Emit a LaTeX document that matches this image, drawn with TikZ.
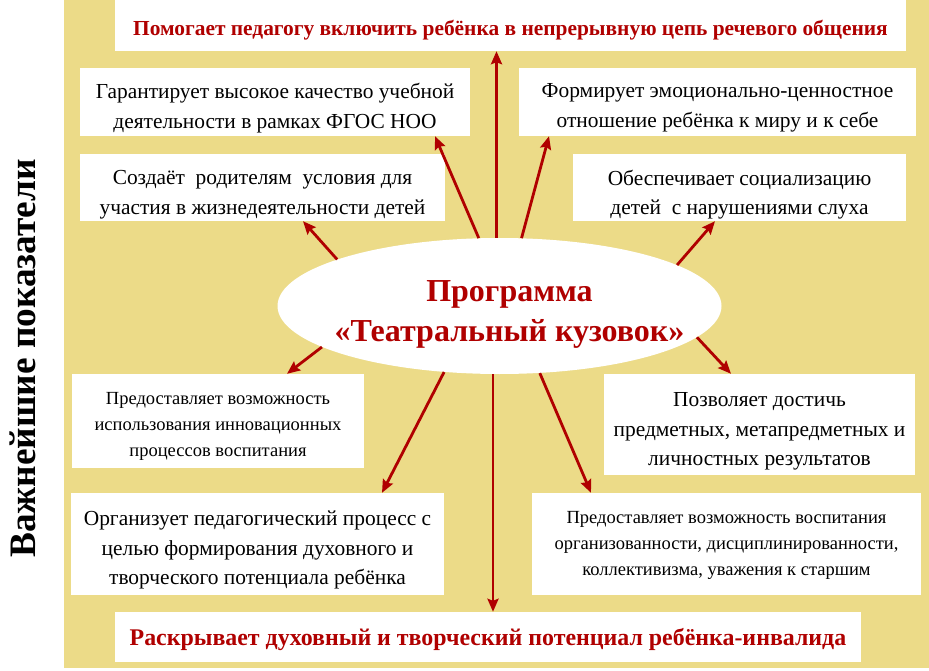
\documentclass[tikz,border=0pt]{standalone}
\usepackage{fontspec}
\setmainfont{Liberation Serif}
\usetikzlibrary{shapes.geometric,arrows.meta}
\definecolor{bgyel}{RGB}{236,219,136}
\definecolor{dred}{RGB}{176,0,0}
\tikzset{
  x=1pt,y=-1pt,
  box/.style={fill=white,inner sep=0pt},
  txt/.style={inner sep=0pt,align=center,text=black},
  bodytxt/.style={txt,font=\fontsize{21.4}{29.5}\selectfont},
  smalltxt/.style={txt,font=\fontsize{18.5}{26}\selectfont},
  headtxt/.style={txt,text=dred,font=\bfseries\fontsize{21.4}{24}\selectfont},
  arr/.style={draw=dred,line width=2.8pt,-{Stealth[length=13pt,width=11pt,inset=2pt]}},
}
\begin{document}
\begin{tikzpicture}
\useasboundingbox (0,0) rectangle (929,671);
\fill[bgyel] (64,0) rectangle (929,668);
\node[rotate=90,inner sep=0pt,font=\bfseries\fontsize{37.3}{40}\selectfont] (side) at (22.5,358.5) {Важнейшие показатели};
% boxes
\node[box,minimum width=791,minimum height=51] (top) at (510.5,25.5) {};
\node[box,minimum width=390,minimum height=68] (gar) at (275,102) {};
\node[box,minimum width=365,minimum height=67] (soz) at (262.5,187.5) {};
\node[box,minimum width=397,minimum height=68] (form) at (717.5,102) {};
\node[box,minimum width=333,minimum height=67] (obes) at (739.5,187.5) {};
\node[box,minimum width=292,minimum height=94] (inno) at (218,421) {};
\node[box,minimum width=311,minimum height=101] (pozv) at (759.5,424.5) {};
\node[box,minimum width=373,minimum height=102] (org) at (257.5,544) {};
\node[box,minimum width=389,minimum height=102] (vosp) at (726.5,544) {};
\node[box,minimum width=746,minimum height=50] (bot) at (488,637) {};
\node[ellipse,fill=white,inner sep=0pt,minimum width=444,minimum height=136] (ell) at (499.5,306) {};
% texts
\node[headtxt] (topt) at ([yshift=-5pt]top.center) {Помогает педагогу включить ребёнка в непрерывную цепь речевого общения};
\node[bodytxt] (gart) at ([yshift=-6pt]gar.center) {Гарантирует высокое качество учебной\\деятельности в рамках ФГОС НОО};
\node[bodytxt] (sozt) at ([yshift=-7pt]soz.center) {Создаёт\ \ родителям\ \ условия для\\участия в жизнедеятельности детей};
\node[bodytxt] (formt) at ([yshift=-6pt]form.center) {Формирует эмоционально-ценностное\\отношение ребёнка к миру и к себе};
\node[bodytxt] (obest) at ([yshift=-7pt]obes.center) {Обеспечивает социализацию\\детей\ \ с нарушениями слуха};
\node[txt,text=dred,font=\bfseries\fontsize{32}{40}\selectfont] (ellt) at ([xshift=10pt,yshift=-8pt]ell.center) {Программа\\«Театральный кузовок»};
\node[smalltxt] (innot) at ([yshift=-5pt]inno.center) {Предоставляет возможность\\использования инновационных\\процессов воспитания};
\node[bodytxt] (pozvt) at ([yshift=-7pt]pozv.center) {Позволяет достичь\\предметных, метапредметных и\\личностных результатов};
\node[bodytxt] (orgt) at ([yshift=-6pt]org.center) {Организует педагогический процесс с\\целью формирования духовного и\\творческого потенциала ребёнка};
\node[smalltxt] (vospt) at ([yshift=-1pt]vosp.center) {Предоставляет возможность воспитания\\организованности, дисциплинированности,\\коллективизма, уважения к старшим};
\node[headtxt,font=\bfseries\fontsize{23.9}{26}\selectfont] (bott) at ([yshift=-3pt]bot.center) {Раскрывает духовный и творческий потенциал ребёнка-инвалида};
% arrows
\draw[arr] ([xshift=-3pt]ell.north) -- ([xshift=-14pt]top.south);
\draw[arr] (ell.107.6) -- ([xshift=160pt]gar.south);
\draw[arr] (ell.72.4) -- ([xshift=-168.5pt]form.south);
\draw[arr] (ell.164.9) -- ([xshift=40.5pt]soz.south);
\draw[arr] (ell.13.6) -- ([xshift=-24.5pt]obes.south);
\draw[arr] (ell.193.7) -- ([xshift=69pt]inno.north);
\draw[arr] (ell.351.2) -- ([xshift=-28.5pt]pozv.north);
\draw[arr] (ell.230.5) -- ([xshift=124.5pt]org.north);
\draw[arr] ([xshift=-6.5pt]ell.south) -- ([xshift=5pt]bot.north);
\draw[arr] (ell.301.2) -- ([xshift=-135.5pt]vosp.north);
\end{tikzpicture}
\end{document}
